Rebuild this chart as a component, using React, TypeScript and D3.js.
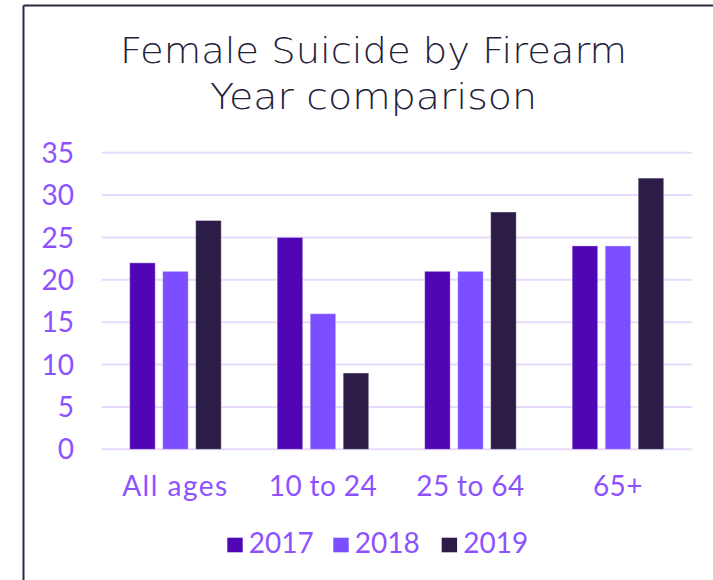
import React from "react";
import * as d3 from "d3";

const categories = ["All ages", "10 to 24", "25 to 64", "65+"];
const years = ["2017", "2018", "2019"];
const values2017 = [22, 25, 21, 24];
const values2018 = [21, 16, 21, 24];
const values2019 = [27, 9, 28, 32];
const yTicks = [0, 5, 10, 15, 20, 25, 30, 35];
const titleLines = ["Female Suicide by Firearm", "Year comparison"];

const series = [values2017, values2018, values2019];
const colors = ["#5006b5", "#7b4fff", "#2b1d47"];

const W = 713;
const H = 580;
const FONT = "Lato, 'Open Sans', sans-serif";
const TITLE_FONT = "'DejaVu Sans', Lato, sans-serif";
const TICK_COLOR = "#8c52ff";

export default function App() {
  const x0 = d3.scaleBand<string>().domain(categories).range([101.7, 691.7]).padding(0);
  const x1 = d3
    .scaleBand<string>()
    .domain(years)
    .range([0, 99])
    .paddingInner(0.227)
    .paddingOuter(0.1135);
  const y = d3.scaleLinear().domain([0, 35]).range([449.3, 152.7]);

  const legendX = [227.3, 333.3, 441.7];
  const titleWidths = [507, 327];

  return (
    <svg
      width={W}
      height={H}
      style={{ position: "absolute", left: 0, top: 0, background: "#fff" }}
    >
      <rect x={0} y={0} width={W} height={H} fill="#fff" />
      {/* frame */}
      <line x1={23.5} y1={5.5} x2={W} y2={5.5} stroke="#2b2840" strokeWidth={2} />
      <line x1={23.5} y1={5.5} x2={23.5} y2={H} stroke="#2b2840" strokeWidth={2} />

      {/* title */}
      {titleLines.map((t, i) => (
        <text
          key={t}
          x={373.5}
          y={63 + i * 46}
          textAnchor="middle"
          fontFamily={TITLE_FONT}
          fontWeight={300}
          fontSize={36}
          fill="#23213a"
          textLength={titleWidths[i]}
          lengthAdjust="spacingAndGlyphs"
        >
          {t}
        </text>
      ))}

      {/* grid */}
      {yTicks.map((t) => (
        <g key={t}>
          <line
            x1={101.7}
            x2={691.7}
            y1={y(t)}
            y2={y(t)}
            stroke="#e8dafc"
            strokeWidth={2}
          />
          <text
            x={74}
            y={y(t)}
            dy="0.36em"
            textAnchor="end"
            fontFamily={FONT}
            fontSize={28}
            fill={TICK_COLOR}
          >
            {t}
          </text>
        </g>
      ))}

      {/* bars */}
      {categories.map((c, ci) => {
        const cx = (x0(c) as number) + x0.bandwidth() / 2 - 49.5;
        return (
          <g key={c}>
            {years.map((yr, si) => {
              const v = series[si][ci];
              return (
                <rect
                  key={yr}
                  x={cx + (x1(yr) as number)}
                  y={y(v)}
                  width={x1.bandwidth()}
                  height={y(0) - y(v)}
                  fill={colors[si]}
                  stroke="rgba(255,255,255,0.35)"
                  strokeWidth={1}
                />
              );
            })}
            <text
              x={(x0(c) as number) + x0.bandwidth() / 2}
              y={495.5}
              textAnchor="middle"
              fontFamily={FONT}
              fontSize={28}
              letterSpacing={c === "All ages" ? 1.5 : 0.4}
              fill={TICK_COLOR}
            >
              {c}
            </text>
          </g>
        );
      })}

      {/* legend */}
      {years.map((yr, i) => (
        <g key={yr}>
          <rect x={legendX[i]} y={537.7} width={15.4} height={14.6} fill={colors[i]} />
          <text
            x={legendX[i] + 21.5}
            y={553.3}
            fontFamily={FONT}
            fontSize={28}
            fill={TICK_COLOR}
          >
            {yr}
          </text>
        </g>
      ))}
    </svg>
  );
}
